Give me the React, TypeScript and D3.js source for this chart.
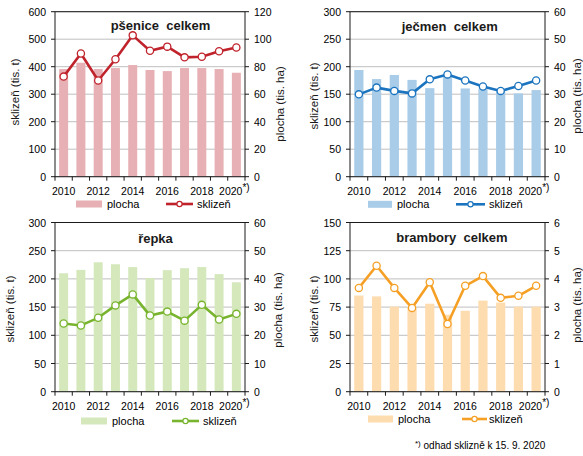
import React from "react";
import * as d3 from "d3";

const years = ["2010", "2011", "2012", "2013", "2014", "2015", "2016", "2017", "2018", "2019", "2020"];
const tickYears = ["2010", "2012", "2014", "2016", "2018", "2020"];

const psenicePlocha = [78.3, 82.9, 78.3, 79.0, 81.2, 77.6, 76.8, 79.0, 79.0, 78.3, 75.6];
const pseniceSklizen = [364, 448, 350, 427, 514, 458, 473, 434, 436, 456, 470];

const jecmenPlocha = [38.8, 35.5, 37.0, 35.2, 32.2, 36.4, 32.1, 32.0, 31.0, 30.3, 31.5];
const jecmenSklizen = [149.7, 162, 156, 151.5, 177, 186, 175, 164, 156, 165, 175];

const repkaPlocha = [42.0, 43.2, 45.9, 45.2, 44.2, 40.3, 43.1, 43.8, 44.2, 41.7, 38.8];
const repkaSklizen = [121, 117.5, 131, 153, 172.5, 135, 142, 126, 154, 128, 138];

const bramboryPlocha = [3.41, 3.38, 3.02, 2.99, 3.12, 2.73, 2.87, 3.23, 3.16, 3.02, 3.02];
const bramborySklizen = [92, 111.7, 92, 74.3, 97, 60, 93.9, 102.5, 83.2, 85, 93.9];

const FONT = "'Liberation Sans', Arial, sans-serif";

type PanelProps = {
  title: string;
  left: number;
  right: number;
  top: number;
  bottom: number;
  maxL: number;
  stepL: number;
  maxR: number;
  stepR: number;
  plocha: number[];
  sklizen: number[];
  barColor: string;
  lineColor: string;
  titleX: number;
  titleY: number;
  leftTitleX: number;
  leftTitleY: number;
  rightTitleX: number;
  rightTitleY: number;
  legRect: [number, number];
  legText1: number;
  legLine: [number, number];
  legText2: number;
  legY: number;
};

function Panel(p: PanelProps) {
  const x = d3.scaleBand<string>().domain(years).range([p.left, p.right]).paddingInner(0.48).paddingOuter(0.24);
  const step = x.step();
  const yL = d3.scaleLinear().domain([0, p.maxL]).range([p.bottom, p.top]);
  const yR = d3.scaleLinear().domain([0, p.maxR]).range([p.bottom, p.top]);
  const ticksL = d3.range(0, p.maxL + 1e-9, p.stepL);
  const ticksR = d3.range(0, p.maxR + 1e-9, p.stepR);
  const cx = (y: string) => (x(y) as number) + x.bandwidth() / 2;
  const line = d3
    .line<number>()
    .x((_, i) => cx(years[i]))
    .y((d) => yL(d));
  const fmtR = (v: number) => (p.stepR < 1 ? d3.format(".1f")(v) : String(Math.round(v)));
  const legMarkX = (p.legLine[0] + p.legLine[1]) / 2;
  return (
    <g>
      {ticksL.map((t) => (
        <line key={"g" + t} x1={p.left} x2={p.right} y1={yL(t)} y2={yL(t)} stroke="#bfbfbf" strokeWidth={1} />
      ))}
      {years.map((y, i) => (
        <rect key={"b" + y} x={x(y)} y={yR(p.plocha[i])} width={x.bandwidth()} height={p.bottom - yR(p.plocha[i])} fill={p.barColor} />
      ))}
      <rect x={p.left} y={p.top} width={p.right - p.left} height={p.bottom - p.top} fill="none" stroke="#1a1a1a" strokeWidth={1} />
      {ticksL.map((t) => (
        <g key={"tl" + t}>
          <line x1={p.left - 4} x2={p.left} y1={yL(t)} y2={yL(t)} stroke="#1a1a1a" />
          <text x={p.left - 9} y={yL(t) + 4} textAnchor="end" fontSize={10.5} fontFamily={FONT} fill="#000">
            {t}
          </text>
        </g>
      ))}
      {ticksR.map((t) => (
        <g key={"tr" + t}>
          <line x1={p.right} x2={p.right + 4} y1={yR(t)} y2={yR(t)} stroke="#1a1a1a" />
          <text x={p.right + 9} y={yR(t) + 4} textAnchor="start" fontSize={10.5} fontFamily={FONT} fill="#000">
            {fmtR(t)}
          </text>
        </g>
      ))}
      {d3.range(0, years.length + 1).map((i) => (
        <line key={"xt" + i} x1={p.left + i * step} x2={p.left + i * step} y1={p.bottom} y2={p.bottom + 4} stroke="#1a1a1a" />
      ))}
      {tickYears.map((y) => (
        <text key={"xl" + y} x={cx(y) + (y === "2020" ? -2 : 0)} y={p.bottom + 18} textAnchor="middle" fontSize={10.5} fontFamily={FONT} fill="#000">
          {y}
          {y === "2020" ? (
            <tspan fontSize={10} dy={-4}>
              *)
            </tspan>
          ) : null}
        </text>
      ))}
      <path d={line(p.sklizen) || ""} fill="none" stroke={p.lineColor} strokeWidth={2.6} strokeLinejoin="round" />
      {p.sklizen.map((v, i) => (
        <circle key={"m" + i} cx={cx(years[i])} cy={yL(v)} r={3.6} fill="#fff" stroke={p.lineColor} strokeWidth={1.3} />
      ))}
      <text
        x={p.titleX}
        y={p.titleY}
        textAnchor="middle"
        fontSize={13}
        fontWeight="bold"
        fontFamily={FONT}
        fill="#1a1a1a"
        style={{ whiteSpace: "pre" }}
      >
        {p.title}
      </text>
      <text
        transform={`translate(${p.leftTitleX},${p.leftTitleY}) rotate(-90)`}
        textAnchor="middle"
        dominantBaseline="central"
        fontSize={11.5}
        fontFamily={FONT}
        fill="#1a1a1a"
      >
        sklizeň (tis. t)
      </text>
      <text
        transform={`translate(${p.rightTitleX},${p.rightTitleY}) rotate(-90)`}
        textAnchor="middle"
        dominantBaseline="central"
        fontSize={11.5}
        fontFamily={FONT}
        fill="#1a1a1a"
      >
        plocha (tis. ha)
      </text>
      <rect x={p.legRect[0]} y={p.legY - 3.5} width={p.legRect[1] - p.legRect[0]} height={7} fill={p.barColor} />
      <text x={p.legText1} y={p.legY + 4} fontSize={11} fontFamily={FONT} fill="#000">
        plocha
      </text>
      <line x1={p.legLine[0]} x2={p.legLine[1]} y1={p.legY} y2={p.legY} stroke={p.lineColor} strokeWidth={2.6} />
      <circle cx={legMarkX} cy={p.legY} r={2.6} fill="#fff" stroke={p.lineColor} strokeWidth={1.2} />
      <text x={p.legText2} y={p.legY + 4} fontSize={11} fontFamily={FONT} fill="#000">
        sklizeň
      </text>
    </g>
  );
}

export default function App() {
  return (
    <svg width={583} height={456} style={{ position: "absolute", left: 0, top: 0, display: "block", background: "#fff" }}>
      <Panel
        title="pšenice  celkem"
        left={55}
        right={245}
        top={11.7}
        bottom={176.7}
        maxL={600}
        stepL={100}
        maxR={120}
        stepR={20}
        plocha={psenicePlocha}
        sklizen={pseniceSklizen}
        barColor="#e6b0b4"
        lineColor="#c0232c"
        titleX={160.5}
        titleY={29.5}
        leftTitleX={15}
        leftTitleY={92}
        rightTitleX={280}
        rightTitleY={104}
        legRect={[76, 102]}
        legText1={107}
        legLine={[166, 193]}
        legText2={197}
        legY={204}
      />
      <Panel
        title="ječmen  celkem"
        left={350}
        right={545}
        top={11.7}
        bottom={176.7}
        maxL={300}
        stepL={50}
        maxR={60}
        stepR={10}
        plocha={jecmenPlocha}
        sklizen={jecmenSklizen}
        barColor="#a9cce8"
        lineColor="#1b74bf"
        titleX={449.7}
        titleY={31}
        leftTitleX={314}
        leftTitleY={96}
        rightTitleX={577}
        rightTitleY={96}
        legRect={[368, 392]}
        legText1={397}
        legLine={[456, 485]}
        legText2={489}
        legY={204.3}
      />
      <Panel
        title="řepka"
        left={55}
        right={245}
        top={222.5}
        bottom={391.7}
        maxL={300}
        stepL={50}
        maxR={60}
        stepR={10}
        plocha={repkaPlocha}
        sklizen={repkaSklizen}
        barColor="#d4e8bc"
        lineColor="#78b42e"
        titleX={155.5}
        titleY={243}
        leftTitleX={10}
        leftTitleY={309}
        rightTitleX={278}
        rightTitleY={310}
        legRect={[81, 107]}
        legText1={112}
        legLine={[172, 199]}
        legText2={203}
        legY={421}
      />
      <Panel
        title="brambory  celkem"
        left={350}
        right={545}
        top={222.5}
        bottom={391.7}
        maxL={150}
        stepL={25}
        maxR={6}
        stepR={1}
        plocha={bramboryPlocha}
        sklizen={bramborySklizen}
        barColor="#fddcb0"
        lineColor="#f5a025"
        titleX={452}
        titleY={241.5}
        leftTitleX={314}
        leftTitleY={309}
        rightTitleX={577}
        rightTitleY={305}
        legRect={[368, 393]}
        legText1={398}
        legLine={[462, 487]}
        legText2={489}
        legY={419}
      />
      <text x={415} y={449} fontSize={10} fontFamily={FONT} fill="#000">
        <tspan fontSize={8} dy={-3}>
          *)
        </tspan>
        <tspan dy={3}> odhad sklizně k 15. 9. 2020</tspan>
      </text>
    </svg>
  );
}
